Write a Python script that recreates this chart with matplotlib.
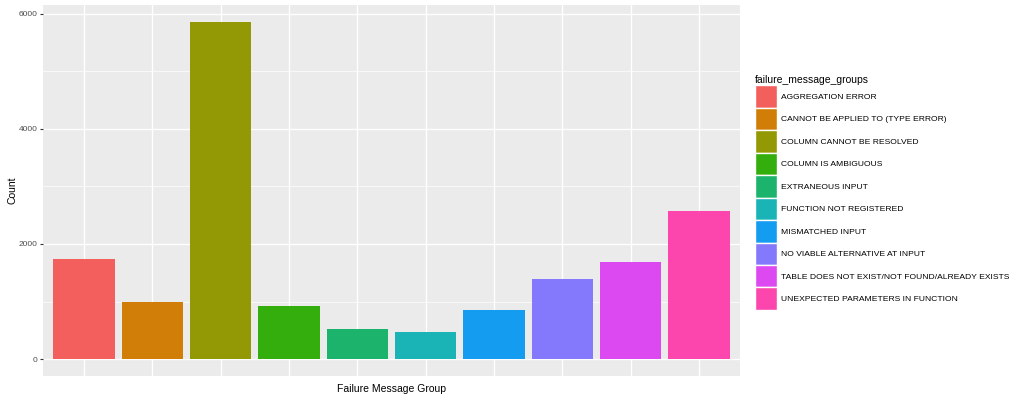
import matplotlib
matplotlib.use("Agg")
import matplotlib.pyplot as plt
from matplotlib.patches import Patch

# data
groups = ["AGGREGATION ERROR", "CANNOT BE APPLIED TO (TYPE ERROR)", "COLUMN CANNOT BE RESOLVED",
          "COLUMN IS AMBIGUOUS", "EXTRANEOUS INPUT", "FUNCTION NOT REGISTERED", "MISMATCHED INPUT",
          "NO VIABLE ALTERNATIVE AT INPUT", "TABLE DOES NOT EXIST/NOT FOUND/ALREADY EXISTS",
          "UNEXPECTED PARAMETERS IN FUNCTION"]
counts = [1734, 985, 5856, 920, 520, 470, 850, 1400, 1682, 2578]
colors = ["#F25F5C", "#D07E08", "#939805", "#34AE0C", "#1CB46C",
          "#1AB3B6", "#149CF1", "#8479FD", "#DD49F0", "#FC46AE"]
yticks = [0, 2000, 4000, 6000]

plt.rcParams['font.family'] = ['Liberation Sans', 'DejaVu Sans']

fig = plt.figure(figsize=(10.24, 3.99), dpi=100)
ax = fig.add_axes([43/1024, 23/399, 697/1024, 371/399])
ax.set_facecolor("#EBEBEB")

x = list(range(1, len(groups) + 1))
ax.bar(x, counts, width=0.9, color=colors, zorder=3)

ax.set_xlim(0.4, len(groups) + 0.6)
ymax = max(counts)
ax.set_ylim(-0.05 * ymax, ymax * 1.05)
ax.set_xticks(x)
ax.set_xticklabels([])
ax.tick_params(axis="x", length=0)
ax.set_yticks(yticks)
ax.set_yticks([1000, 3000, 5000], minor=True)
ax.tick_params(axis="y", which="major", length=2.5, color="#333333", labelsize=6, labelcolor="#4D4D4D", pad=1.5)
ax.tick_params(axis="y", which="minor", length=0)
ax.grid(True, which="major", color="white", linewidth=1.0, zorder=0)
ax.grid(True, which="minor", axis="y", color="white", linewidth=0.5, zorder=0)
for s in ax.spines.values():
    s.set_visible(False)

ax.set_xlabel("Failure Message Group", fontsize=7.5, labelpad=2)
ax.set_ylabel("Count", fontsize=7.5, labelpad=1)

handles = [Patch(facecolor=c, edgecolor="white", linewidth=1.0) for c in colors]
leg = fig.legend(handles, groups, loc="upper left", bbox_to_anchor=(752/1024, 1 - 72/399),
                 frameon=False, title="failure_message_groups", fontsize=6.1,
                 title_fontsize=7.5, handlelength=2.55, handleheight=3.7,
                 labelspacing=0.0, handletextpad=0.45, borderaxespad=0)
leg._legend_box.align = "left"

fig.savefig("out.png", dpi=100)
